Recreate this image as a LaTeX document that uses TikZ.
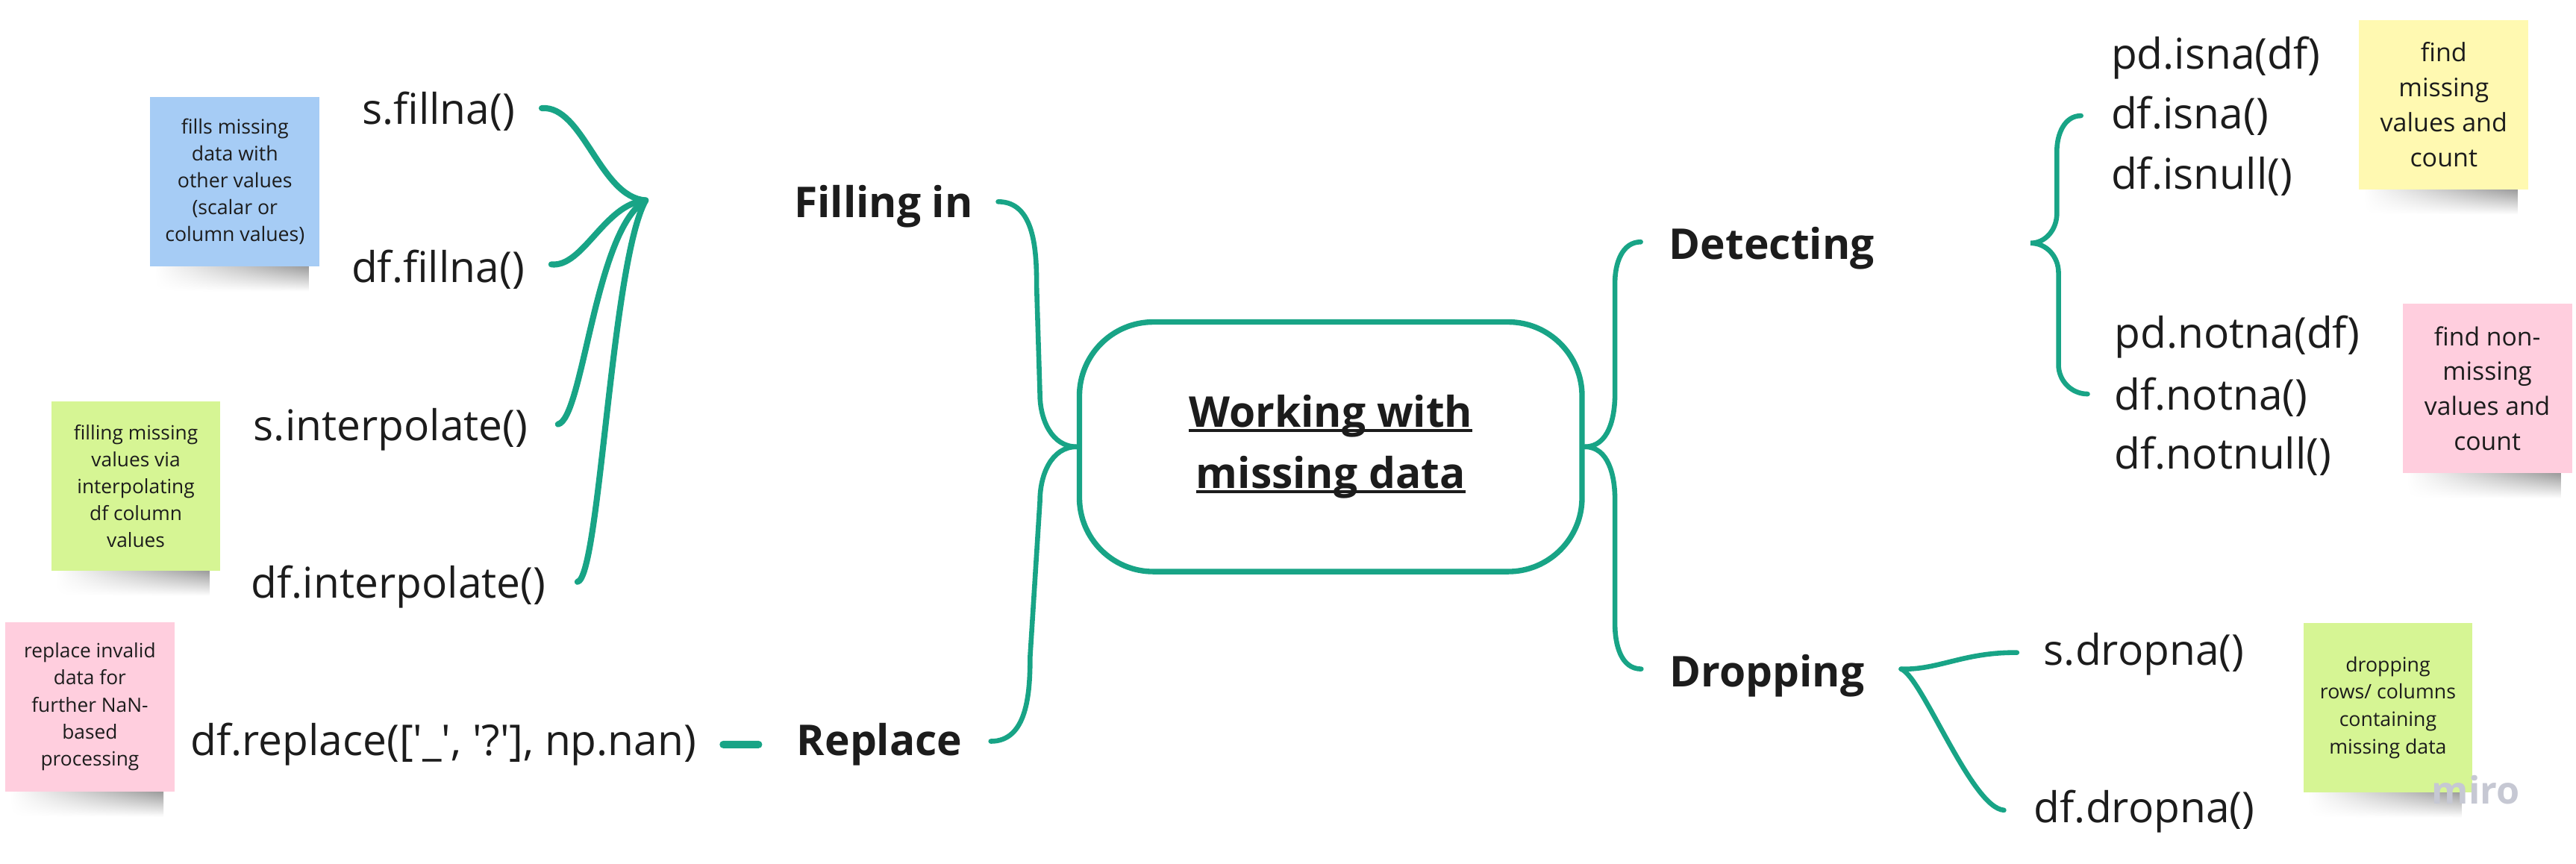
\documentclass[tikz,border=0pt]{standalone}
\usepackage{fontspec}
\setmainfont{Open Sans}
\usetikzlibrary{calc,backgrounds,fadings}
\definecolor{mmteal}{RGB}{24,164,134}
\definecolor{mmink}{RGB}{28,28,28}
\definecolor{nblue}{RGB}{166,204,245}
\definecolor{nyellow}{RGB}{255,249,177}
\definecolor{npink}{RGB}{255,206,222}
\definecolor{ngreen}{RGB}{214,245,148}
\definecolor{mirogray}{RGB}{198,200,211}
\newcommand\hubline[1]{\setbox0\hbox{#1}\rlap{\rule[-1.6pt]{\wd0}{1.1pt}}\box0}
\newcommand\mfont{\fontsize{14.7}{17}\selectfont}
\tikzfading[name=shdfade, left color=transparent!100, middle color=transparent!35, right color=transparent!20]
\tikzset{
  lnk/.style={mmteal, line width=1.7pt, line cap=round},
  flnk/.style={mmteal, line width=2.1pt, line cap=round},
  meth/.style={anchor=base west, inner sep=0pt, text=mmink, font=\mfont},
  head/.style={anchor=base west, inner sep=0pt, text=mmink, font=\mfont\bfseries},
  hub/.style={draw=mmteal, line width=1.9pt, rounded corners=0.9cm,
              minimum width=6.12cm, minimum height=3.04cm, align=center,
              text=mmink, font=\fontsize{14.7}{21.2}\selectfont\bfseries},
  note/.style={minimum width=2.06cm, minimum height=2.06cm, inner sep=0pt,
               align=center, text=mmink},
  nshd/.style={top color=black!55, bottom color=white, path fading=shdfade},
}

\begin{document}
\begin{tikzpicture}[x=0.02cm, y=-0.02cm]
  \useasboundingbox (0,0) rectangle (1568,526);

  \node[hub] (hub) at (810,272) {\hubline{Working with}\\\hubline{missing data}};
  \node[head] (fill) at (483,132.5) {Filling in};
  \node[head] (repl) at (484.7,460) {Replace};
  \node[head] (detect) at (1015.7,158) {Detecting};
  \node[head] (drop) at (1016,418) {Dropping};

  \node[meth] (sfill) at (220,75.7) {s.fillna()};
  \node[meth] (dffill) at (213.6,171.8) {df.fillna()};
  \node[meth] (sinterp) at (154,268) {s.interpolate()};
  \node[meth] (dfinterp) at (152.6,364) {df.interpolate()};
  \node[meth] (dfrepl) at (115.6,460) {df.replace([\textquotesingle\_\textquotesingle, \textquotesingle?\textquotesingle], np.nan)};
  \node[meth] (pisna) at (1284.7,41.9) {pd.isna(df)};
  \node[meth] (disna) at (1284.7,78.3) {df.isna()};
  \node[meth] (disnull) at (1284.7,115) {df.isnull()};
  \node[meth] (pnotna) at (1286.7,212) {pd.notna(df)};
  \node[meth] (dnotna) at (1286.7,249.7) {df.notna()};
  \node[meth] (dnotnull) at (1286.7,285.5) {df.notnull()};
  \node[meth] (sdrop) at (1243.7,405) {s.dropna()};
  \node[meth] (ddrop) at (1237.8,501) {df.dropna()};

  \node[note, fill=nblue, font=\fontsize{6.9}{9.3}\selectfont] (nfill) at (143,110.5)
    {fills missing\\data with\\other values\\(scalar or\\column values)};
  \node[note, fill=ngreen, font=\fontsize{6.8}{9.3}\selectfont] (ninterp) at (82.7,295.8)
    {filling missing\\values via\\interpolating\\df column\\values};
  \node[note, fill=npink, font=\fontsize{6.8}{9.4}\selectfont] (nrepl) at (54.7,430.3)
    {replace invalid\\data for\\further NaN-\\based\\processing};
  \node[note, fill=nyellow, font=\fontsize{8.8}{12.1}\selectfont] (nisna) at (1487.5,63.7)
    {find\\missing\\values and\\count};
  \node[note, fill=npink, font=\fontsize{8.7}{12.1}\selectfont] (nnotna) at (1514,236.5)
    {find non-\\missing\\values and\\count};
  \node[note, fill=ngreen, font=\fontsize{6.9}{9.5}\selectfont] (ndrop) at (1453.5,430.8)
    {dropping\\rows/ columns\\containing\\missing data};

  \begin{scope}[on background layer]
    \foreach \nn in {nfill,ninterp,nrepl,nisna,nnotna,ndrop}
      \shade[nshd] ($(\nn.south west)+(3,-2)$) rectangle ($(\nn.south east)+(-7,15)$);
  \end{scope}

  \coordinate (fj) at (393,122);
  \draw[flnk] ($(sfill.east)+(16,-2)$) .. controls (355,64) and (365,120) .. (fj);
  \draw[flnk] ($(dffill.east)+(16,-3)$) .. controls (355,163) and (368,124) .. (fj);
  \draw[flnk] ($(sinterp.east)+(18,-3)$) .. controls (355,255) and (362,140) .. (fj);
  \draw[flnk] ($(dfinterp.east)+(19,-3)$) .. controls (365,352) and (372,160) .. (fj);
  \draw[flnk, line width=2.6pt, shorten <=0.32cm, shorten >=0.46cm] (dfrepl) -- (repl);

  \draw[lnk] ($(fill.east)+(15,-3)$) to[out=0,in=90] (631,175) -- (633,240) to[out=-90,in=180] (hub.west);
  \draw[lnk] ($(repl.east)+(17,-2)$) to[out=0,in=-90] (627,400) -- (633,305) to[out=90,in=180] (hub.west);
  \draw[lnk] (hub.east) to[out=0,in=-90] (983,240) -- (983,172) to[out=90,in=180] ($(detect.west)+(-17,-4)$);
  \draw[lnk] (hub.east) to[out=0,in=90] (983,304) -- (983,380) to[out=-90,in=180] ($(drop.west)+(-17,-4)$);

  \coordinate (dtip) at (1236,148);
  \draw[lnk] ($(disna.west)+(-18,0)$) to[out=180,in=90] (1252,92) -- (1252,130) to[out=-90,in=0] (dtip)
    to[out=0,in=90] (1253,166) -- (1253,222) to[out=-90,in=180] ($(dnotna.west)+(-16,-2)$);

  \coordinate (dj) at ($(drop.east)+(22,-4)$);
  \draw[lnk] (dj) .. controls (1180,408) and (1195,397) .. ($(sdrop.west)+(-16,-1)$);
  \draw[lnk] (dj) .. controls (1170,412) and (1200,492) .. ($(ddrop.west)+(-18,-1)$);

  \node[text=mirogray, font=\fontsize{13}{13}\selectfont\bfseries, inner sep=0pt] (miro) at (1507,481) {miro};
\end{tikzpicture}
\end{document}
